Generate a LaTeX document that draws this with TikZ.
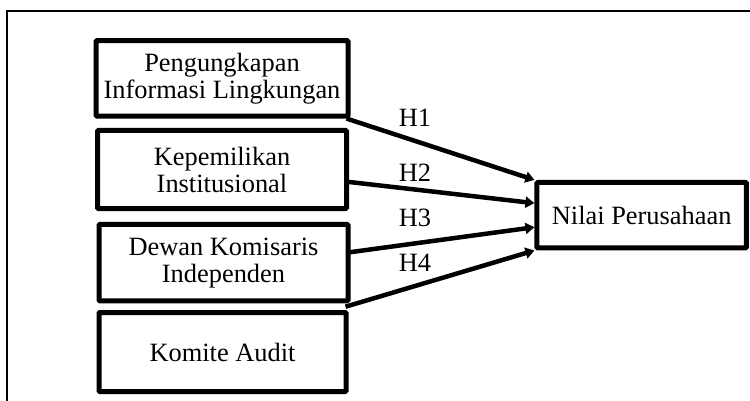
\documentclass[tikz,border=0pt]{standalone}
\usepackage{fontspec}
\setmainfont{Liberation Serif}
\usetikzlibrary{arrows.meta,calc}
\tikzset{
  varbox/.style={draw, line width=5pt, rounded corners=1pt, inner sep=0pt, align=center,
    font=\fontsize{26.4}{27}\selectfont},
  hyp/.style={line width=4.5pt, -{Triangle[length=9pt,width=11pt]}},
  hlabel/.style={font=\fontsize{26.4}{27}\selectfont, inner sep=0pt}
}
\begin{document}
\begin{tikzpicture}[x=1pt,y=-1pt]
\useasboundingbox (0,0) rectangle (750,401);
\draw[line width=2.6pt] (7,401) -- (7,11) -- (752,11);
\node[varbox, minimum width=252pt, minimum height=75.5pt] (b1) at (222,78.3) {Pengungkapan\\Informasi Lingkungan};
\node[varbox, minimum width=249pt, minimum height=78pt] (b2) at (222,169.5) {Kepemilikan\\Institusional};
\node[varbox, minimum width=249pt, minimum height=76.5pt] (b3) at (223.5,262.7) {Dewan Komisaris\\Independen};
\node[varbox, minimum width=247pt, minimum height=79pt] (b4) at (222.5,352) {Komite Audit};
\node[varbox, minimum width=209.5pt, minimum height=65.5pt] (y) at (641.7,215.2) {Nilai Perusahaan};
\coordinate (s4) at ($(b3.south east)!0.5!(b4.north east)$);
\draw[hyp] ([xshift=-4pt]b1.south east) -- (y.north west);
\draw[hyp] ([xshift=-4pt,yshift=-12pt]b2.east) -- ([yshift=12pt]y.west);
\draw[hyp] ([xshift=-4pt,yshift=10pt]b3.east) -- ([yshift=-12pt]y.west);
\draw[hyp] ([xshift=-4pt]s4) -- (y.south west);
\node[hlabel] (h1) at (415,118) {H1};
\node[hlabel] (h2) at (415,173) {H2};
\node[hlabel] (h3) at (415,218) {H3};
\node[hlabel] (h4) at (415,263) {H4};
\end{tikzpicture}
\end{document}
